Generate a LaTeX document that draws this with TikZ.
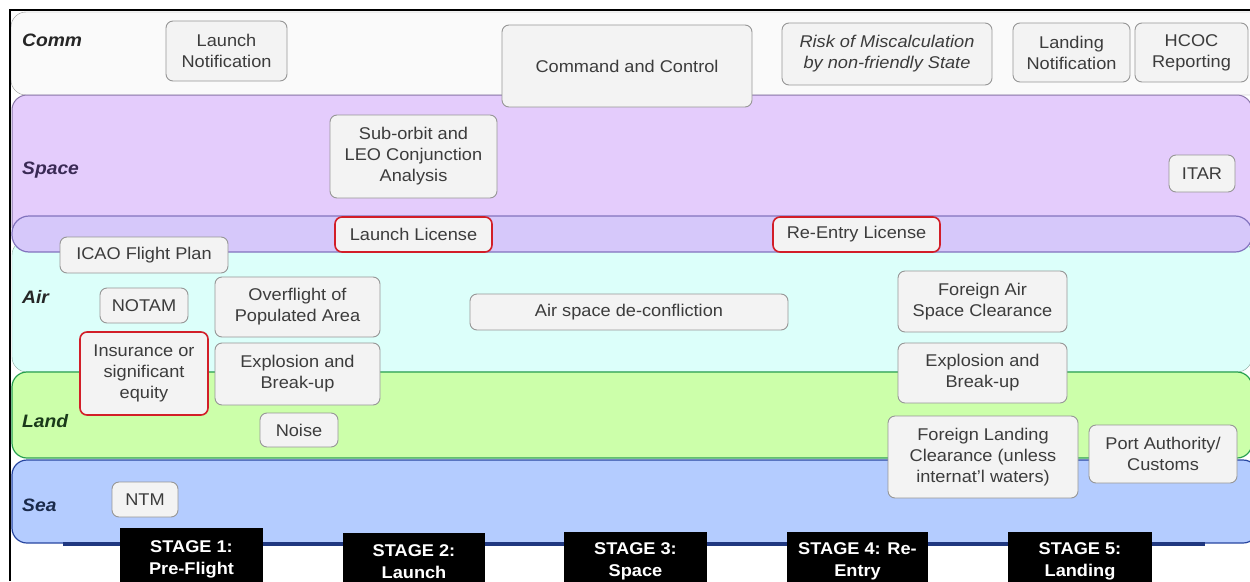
\documentclass[tikz,border=0pt]{standalone}
\usepackage{fontspec}
\setmainfont{Liberation Sans}[FakeStretch=1.07]
\definecolor{commfill}{RGB}{250,250,250}
\definecolor{commline}{RGB}{150,150,150}
\definecolor{spacefill}{RGB}{228,204,252}
\definecolor{spaceline}{RGB}{140,120,170}
\definecolor{licfill}{RGB}{214,200,250}
\definecolor{licline}{RGB}{130,115,190}
\definecolor{airfill}{RGB}{220,255,250}
\definecolor{airline}{RGB}{140,170,160}
\definecolor{landfill}{RGB}{204,255,170}
\definecolor{landline}{RGB}{40,160,80}
\definecolor{seafill}{RGB}{180,204,255}
\definecolor{sealine}{RGB}{40,70,160}
\definecolor{itemfill}{RGB}{243,243,243}
\definecolor{itemline}{RGB}{150,150,150}
\definecolor{itemtext}{RGB}{60,60,60}
\definecolor{licred}{RGB}{210,30,40}
\begin{document}
\begin{tikzpicture}[x=1pt,y=-1pt,
    wh/.style 2 args={minimum width=#1pt,minimum height=#2pt},
    item/.style={draw=itemline,fill=itemfill,rounded corners=7pt,align=center,text=itemtext,
      inner sep=0pt,line width=0.9pt,font=\fontsize{17}{21}\selectfont},
    redbox/.style={item,draw=licred,line width=1.6pt},
    stage/.style={fill=black,text=white,align=center,inner sep=0pt,
      font=\fontsize{17}{22}\selectfont\bfseries},
    lane/.style={anchor=west,inner sep=0pt,font=\fontsize{18}{20}\selectfont\bfseries\itshape}]
  \useasboundingbox (0,0) rectangle (1250,581);

  % the lanes
  \begin{scope}
    \clip (0,0) rectangle (1250,581);
    \draw[draw=commline,fill=commfill,rounded corners=15pt] (11,12) rectangle (1275,95);
    \draw[draw=spaceline,fill=spacefill,rounded corners=15pt,line width=1pt] (12,95) rectangle (1252,240);
    \draw[draw=airline,fill=airfill,rounded corners=15pt] (12,240) rectangle (1252,372);
    \draw[draw=licline,fill=licfill,rounded corners=17pt,line width=1.2pt] (12,216) rectangle (1252,252);
    \draw[draw=landline,fill=landfill,rounded corners=15pt,line width=1.2pt] (12,372) rectangle (1252,458);
    \draw[draw=sealine,fill=seafill,rounded corners=15pt,line width=1.2pt] (12,460) rectangle (1258,543);
    \draw[sealine!80!black,line width=4pt] (63,544) -- (1205,544);
  \end{scope}
  \draw[black,line width=1.5pt] (10,581) -- (10,10) -- (1250,10);

  \node[lane,text=black!85] (comm) at (22,40) {Comm};
  \node[lane,text={rgb,255:red,58;green,42;blue,85}] (space) at (22,170) {Space};
  \node[lane,text=black!85] (air) at (22,297) {Air};
  \node[lane,text={rgb,255:red,26;green,58;blue,26}] (land) at (22,421) {Land};
  \node[lane,text={rgb,255:red,26;green,42;blue,74}] (sea) at (22,505) {Sea};

  % comm
  \node[item,wh={121}{60}] (lnchnotif) at (226.5,51) {Launch\\Notification};
  \node[item,wh={250}{82}] (cmdctl) at (627,66) {Command and Control};
  \node[item,wh={210}{62},font=\fontsize{17}{21}\selectfont\itshape] (risk) at (887,54) {Risk of Miscalculation\\by non-friendly State};
  \node[item,wh={117}{59}] (lndnotif) at (1071.5,52.5) {Landing\\Notification};
  \node[item,wh={113}{59}] (hcoc) at (1191.5,52.5) {HCOC\\Reporting};

  % space
  \node[item,wh={167}{83}] (leo) at (413.5,156.5) {Sub-orbit and\\LEO Conjunction\\Analysis};
  \node[item,wh={66}{37}] (itar) at (1202,173.5) {ITAR};
  \node[redbox,wh={157}{35}] (lnchlic) at (413.5,234.5) {Launch License};
  \node[redbox,wh={167}{35}] (reentlic) at (856.5,234.5) {Re-Entry License};

  % air
  \node[item,wh={168}{36}] (icao) at (144,255) {ICAO Flight Plan};
  \node[item,wh={88}{35}] (notam) at (144,305.5) {NOTAM};
  \node[item,wh={165}{60}] (overfl) at (297.5,307) {Overflight of\\Populated Area};
  \node[item,wh={318}{36}] (deconf) at (629,312) {Air space de-confliction};
  \node[item,wh={169}{61}] (fgnair) at (982.5,301.5) {Foreign Air\\Space Clearance};

  % land
  \node[redbox,wh={128}{83}] (insur) at (144,373.5) {Insurance or\\significant\\equity};
  \node[item,wh={165}{62}] (explA) at (297.5,374) {Explosion and\\Break-up};
  \node[item,wh={169}{60}] (explB) at (982.5,373) {Explosion and\\Break-up};
  \node[item,wh={78}{34}] (noise) at (299,430) {Noise};
  \node[item,wh={190}{82}] (fgnland) at (983,457) {Foreign Landing\\Clearance (unless\\internat'l waters)};
  \node[item,wh={148}{58}] (port) at (1163,454) {Port Authority/\\Customs};

  % sea
  \node[item,wh={66}{35}] (ntm) at (145,499.5) {NTM};

  % stages
  \node[stage,wh={143}{62}] (stg1) at (191.5,559) {STAGE 1:\\Pre-Flight};
  \node[stage,wh={142}{58}] (stg2) at (414,562) {STAGE 2:\\Launch};
  \node[stage,wh={143}{58}] (stg3) at (635.5,561) {STAGE 3:\\Space};
  \node[stage,wh={141}{58}] (stg4) at (857.5,561) {STAGE 4: Re-\\Entry};
  \node[stage,wh={144}{58}] (stg5) at (1080,561) {STAGE 5:\\Landing};
\end{tikzpicture}
\end{document}
